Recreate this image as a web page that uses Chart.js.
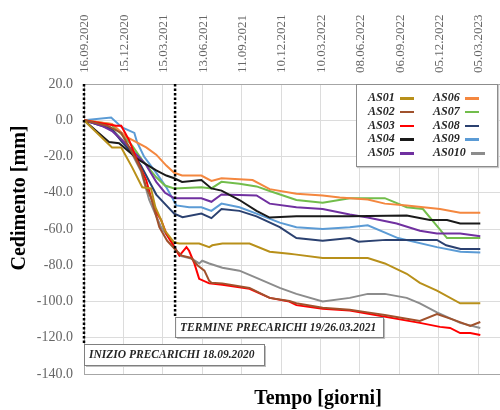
<!DOCTYPE html>
<html>
<head>
<meta charset="utf-8">
<script src="https://cdn.jsdelivr.net/npm/chart.js@4.4.1/dist/chart.umd.min.js"></script>
<style>
  html, body { margin: 0; padding: 0; background: #fff; }
  #wrap { position: relative; width: 500px; height: 410px; overflow: hidden; }
  #legend {
    position: absolute; left: 356px; top: 84px; width: 140px; height: 81px;
    background: #fff; border: 1px solid #8c8c8c; box-shadow: 1px 1px 1px #c8c8c8;
    font: italic bold 12px "Liberation Serif", serif; color: #262626;
  }
  .item { position: absolute; white-space: nowrap; line-height: 14px; }
  .item .sw { display: inline-block; width: 14px; height: 2.5px; margin-left: 5px; vertical-align: middle; }
</style>
</head>
<body>
<div id="wrap">
  <canvas id="chart" width="500" height="410"></canvas>
  <div id="legend"></div>
</div>
<script>
/* Cedimenti piastre AS01..AS010 — giorni dal 16.09.2020, valori in mm */

const seriesNames = ["AS01", "AS02", "AS03", "AS04", "AS05", "AS06", "AS07", "AS08", "AS09", "AS010"];
const seriesColors = ["#b8901a", "#a0522d", "#ff0000", "#1a1a1a", "#7030a0",
                      "#f4873f", "#72bd4b", "#2b4170", "#5b9bd5", "#8c8c8c"];

const dateLabels = ["16.09.2020", "15.12.2020", "15.03.2021", "13.06.2021", "11.09.2021",
                    "10.12.2021", "10.03.2022", "08.06.2022", "06.09.2022", "05.12.2022", "05.03.2023"];
const yTicks = [20, 0, -20, -40, -60, -80, -100, -120, -140];

// [giorno, cedimento]
const as01 = [[0,0],[64,-15],[85,-15],[110,-26],[133,-37],[153,-37.6],[163,-48],[176,-55],[185,-61],[190,-62.6],[206,-67.5],[218,-68],[263,-68],[286,-70],[293,-69],[316,-68],[378,-68],[424,-72.5],[469,-73.6],[481,-74],[545,-76],[648,-76],[687,-79],[737,-84.7],[767,-89.7],[806,-94],[859,-101],[905,-101]];
const as02 = [[0,0],[53,-3],[85,-7],[115,-20],[131,-27.7],[142,-37],[153,-42.6],[172,-59],[190,-66.5],[211,-72],[224,-74.7],[245,-76],[259,-80],[275,-83],[286,-88.6],[291,-89.7],[316,-90],[378,-92.5],[424,-98],[469,-99.7],[485,-101],[545,-103.5],[607,-104.6],[648,-106],[687,-107.4],[767,-110.7],[806,-106.9],[843,-110],[882,-113.5],[905,-111.3]];
const as03 = [[0,0],[73,-3],[85,-3],[103,-11],[121,-22],[142,-33],[153,-42.6],[167,-51.5],[176,-55],[188,-62.6],[199,-67],[211,-72],[218,-74.7],[234,-70],[240,-72],[252,-79],[263,-87.5],[286,-90],[316,-90.8],[378,-93],[424,-98],[469,-100],[485,-102],[545,-104],[607,-105],[767,-111.8],[813,-114],[836,-114.6],[859,-117.4],[882,-117.4],[905,-118.5]];
const as04 = [[0,0],[57,-12],[80,-12.7],[126,-22],[165,-27.7],[188,-30.5],[206,-32],[224,-34],[268,-33],[291,-37.6],[314,-38.8],[355,-44],[394,-50],[424,-53.7],[485,-53],[607,-53],[737,-52.6],[790,-55],[829,-55],[859,-57],[905,-57]];
const as05 = [[0,0],[40,-3],[64,-6],[100,-14],[140,-24],[165,-34],[185,-40],[206,-43],[268,-43],[291,-45],[314,-41],[394,-41.5],[424,-46],[485,-48],[545,-49],[607,-52],[648,-53.7],[714,-57],[767,-61],[806,-62.5],[859,-62.5],[905,-64]];
const as06 = [[0,0],[64,-2],[96,-9],[142,-15],[165,-19],[188,-25],[206,-29],[224,-30.5],[268,-30.5],[291,-33.5],[314,-32],[385,-33],[424,-38],[485,-40.5],[545,-41.5],[584,-42.6],[648,-43.7],[687,-46],[737,-47],[813,-49],[859,-51],[905,-51]];
const as07 = [[0,0],[60,-2],[87,-8],[110,-14],[133,-22],[165,-31.5],[185,-36],[206,-37.6],[268,-37],[291,-37.6],[314,-34],[355,-35],[394,-36.5],[424,-39],[485,-44],[545,-45.5],[607,-43],[648,-43],[687,-43],[737,-48],[774,-49],[829,-65],[905,-65]];
const as08 = [[0,0],[40,-3],[64,-5],[87,-12],[110,-18],[130,-25],[165,-41],[188,-47],[206,-51.5],[225,-53.5],[268,-51.5],[291,-54],[314,-49],[355,-50],[394,-53],[447,-59],[485,-65],[545,-66.5],[607,-65],[627,-67],[690,-66],[806,-66],[827,-69],[860,-71],[905,-71]];
const as09 = [[0,0],[62,1.5],[87,-4],[115,-7],[121,-12],[137,-20],[165,-29],[188,-37],[211,-47],[240,-48],[268,-48],[291,-50],[314,-46],[355,-48],[394,-51.5],[447,-56.5],[485,-59],[545,-60],[607,-59],[648,-58],[717,-65],[806,-70],[860,-72.5],[905,-73]];
const as010 = [[0,0],[60,-4],[100,-14],[130,-28],[149,-44],[176,-59],[202,-67.5],[218,-74.7],[247,-76.5],[263,-79],[270,-77.5],[286,-79],[316,-81.4],[355,-83],[394,-87],[447,-92.5],[485,-95.8],[545,-100],[607,-98],[648,-95.8],[687,-95.8],[737,-98],[767,-101],[806,-106],[859,-111.8],[905,-114.6]];

const seriesPoints = [as01, as02, as03, as04, as05, as06, as07, as08, as09, as010];

const inizioDay = 0;
const termineDay = 208;
const inizioText = "INIZIO PRECARICHI 18.09.2020";
const termineText = "TERMINE PRECARICHI 19/26.03.2021";

const SERIF = '"Liberation Serif", "Times New Roman", serif';

// legenda html (testo prima, campione dopo, su due colonne)
const legendEl = document.getElementById("legend");
seriesNames.forEach((name, i) => {
  const col = Math.floor(i / 5), row = i % 5;
  const div = document.createElement("div");
  div.className = "item";
  div.style.left = (col === 0 ? 11 : 76) + "px";
  div.style.top = (5 + row * 13.8) + "px";
  div.innerHTML = name + '<span class="sw" style="background:' + seriesColors[i] + '"></span>';
  legendEl.appendChild(div);
});

function drawBox(ctx, x, y, w, h, text) {
  ctx.save();
  ctx.setLineDash([]);
  ctx.fillStyle = "#bfbfbf";
  ctx.fillRect(x + 2, y + 2, w, h);
  ctx.fillStyle = "#fff";
  ctx.fillRect(x, y, w, h);
  ctx.strokeStyle = "#7f7f7f";
  ctx.lineWidth = 1;
  ctx.strokeRect(x + 0.5, y + 0.5, w, h);
  ctx.fillStyle = "#262626";
  ctx.font = "italic bold 11.5px " + SERIF;
  ctx.textBaseline = "middle";
  ctx.textAlign = "left";
  ctx.fillText(text, x + 5, y + h / 2 + 1);
  ctx.restore();
}

const overlay = {
  id: "overlay",
  afterDatasetsDraw(chart) {
    const { ctx, scales: { x }, chartArea } = chart;
    const xi = x.getPixelForValue(inizioDay);
    const xt = x.getPixelForValue(termineDay);
    ctx.save();
    ctx.strokeStyle = "#000";
    ctx.lineWidth = 2.5;
    ctx.setLineDash([2.5, 2]);
    ctx.beginPath();
    ctx.moveTo(xi, chartArea.top);
    ctx.lineTo(xi, 345);
    ctx.moveTo(xt, chartArea.top);
    ctx.lineTo(xt, 317);
    ctx.stroke();
    ctx.restore();
    drawBox(ctx, xi, 344, 180, 21, inizioText);
    drawBox(ctx, xt, 317, 208, 20, termineText);
  },
  afterDraw(chart) {
    const { ctx } = chart;
    ctx.save();
    ctx.fillStyle = "#000";
    ctx.font = "bold 20px " + SERIF;
    ctx.textAlign = "center";
    ctx.textBaseline = "alphabetic";
    ctx.fillText("Tempo [giorni]", 318, 404);
    ctx.translate(25, 198);
    ctx.rotate(-Math.PI / 2);
    ctx.fillText("Cedimento [mm]", 0, 0);
    ctx.restore();
  }
};

new Chart(document.getElementById("chart"), {
  type: "line",
  data: {
    datasets: seriesNames.map((name, i) => ({
      label: name,
      data: seriesPoints[i].map(p => ({ x: p[0], y: p[1] })),
      borderColor: seriesColors[i],
      backgroundColor: seriesColors[i],
      borderWidth: 2,
      pointRadius: 0,
      tension: 0,
      fill: false
    }))
  },
  options: {
    responsive: false,
    animation: false,
    layout: { padding: { top: 0, left: 0, right: 0, bottom: 36 } },
    plugins: { legend: { display: false }, tooltip: { enabled: false } },
    scales: {
      x: {
        type: "linear",
        position: "top",
        min: 0, max: 950,
        afterFit: s => { s.height = 84; },
        ticks: {
          stepSize: 90, includeBounds: false,
          minRotation: 90, maxRotation: 90, padding: 11, labelOffset: 16.5,
          color: "#666", font: { family: SERIF, size: 13 },
          callback: v => dateLabels[v / 90] ?? ""
        },
        grid: { color: "#dcdcdc", drawTicks: false },
        border: { color: "#a6a6a6" }
      },
      y: {
        min: -140, max: 20,
        afterFit: s => { s.width = 84; },
        afterBuildTicks: s => { s.ticks = yTicks.slice().reverse().map(v => ({ value: v })); },
        ticks: {
          padding: 11,
          color: "#666", font: { family: SERIF, size: 14 },
          callback: v => v.toFixed(1)
        },
        grid: {
          drawTicks: false,
          color: c => (c.tick && c.tick.value === -140 ? "#a6a6a6" : "#dcdcdc")
        },
        border: { color: "#a6a6a6" }
      }
    }
  },
  plugins: [overlay]
});
</script>
</body>
</html>
